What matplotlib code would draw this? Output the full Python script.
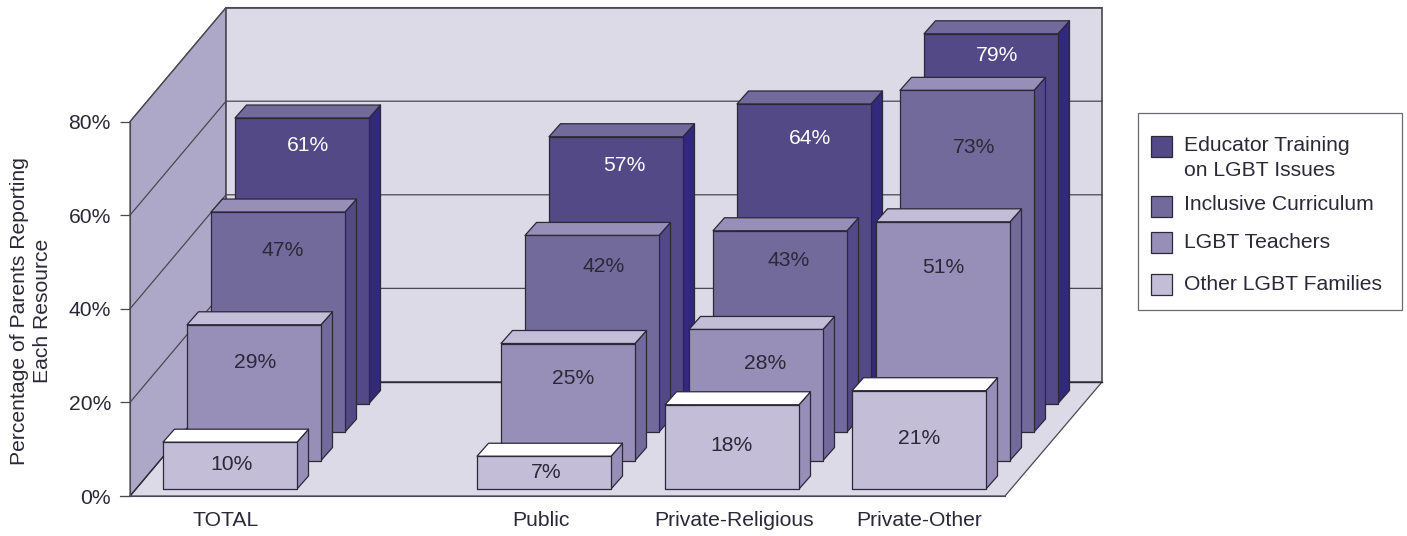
import matplotlib
matplotlib.use("Agg")
import matplotlib.pyplot as plt
from matplotlib.patches import Polygon, Rectangle

plt.rcParams['font.family'] = ['Liberation Sans', 'DejaVu Sans']

# ---- data ----
categories = ["TOTAL", "Public", "Private-Religious", "Private-Other"]
series_names = ["Other LGBT Families", "LGBT Teachers", "Inclusive Curriculum", "Educator Training\non LGBT Issues"]
other_families = [10, 7, 18, 21]
lgbt_teachers = [29, 25, 28, 51]
inclusive_curriculum = [47, 42, 43, 73]
educator_training = [61, 57, 64, 79]
y_ticks = [0, 20, 40, 60, 80]

# ---- layout (pixels of the 1407x536 canvas on x, percent on y) ----
W, H = 1407, 536
PX_PER_PCT = 4.68
Y0 = 496
FS = 15.2
cat_x = [163, 477, 665, 852]          # left edge of the front bar of each group
cat_tick_x = [226, 541, 734, 919]
bar_w = 134
row_dx, row_dy = 24, 28.5 / PX_PER_PCT   # shift between rows of depth
row0_dy = 7 / PX_PER_PCT                 # front row above the plot's front edge
depth_dx, depth_dy = 11.5, 13 / PX_PER_PCT  # depth of one bar
wall_dx, wall_dy = 96, 114 / PX_PER_PCT
floor_w = 875
wall_top = 80

C_EDGE = "#2b2838"
C_WALL = "#dcdae6"
C_SIDE = "#aea8c8"
C_LINE = "#4a4850"
front = ["#c3bdd7", "#978fb8", "#736a9c", "#534987"]
side = ["#978fb8", "#736a9c", "#534987", "#33297a"]
top = ["#ffffff", "#c3bdd7", "#978fb8", "#736a9c"]
label_colors = ["#2b2838", "#2b2838", "#2b2838", "#ffffff"]

# label offsets from front-face centre (px right, px below the top of the face)
label_dx = [[2, 2, 0, 0], [1, 5, 9, 0], [5, 12, 9, 7], [6, 8, 6, 6]]
label_dy = [[22, 16, 41, 48], [38, 35, 34, 46], [38, 31, 30, 57], [27, 29, 35, 22]]

rows = [other_families, lgbt_teachers, inclusive_curriculum, educator_training]

fig = plt.figure(figsize=(W / 100, H / 100), dpi=100)
ax = fig.add_axes([0, 0, 1, 1])
ax.set_xlim(0, W)
ax.set_ylim(-(H - Y0) / PX_PER_PCT, Y0 / PX_PER_PCT)
ax.patch.set_alpha(0)

x0 = 130
# walls and floor
ax.add_patch(Polygon([(x0, 0), (x0 + wall_dx, wall_dy), (x0 + wall_dx + floor_w + 1, wall_dy), (x0 + floor_w, 0)],
                     fc=C_WALL, ec=C_LINE, lw=0.9, zorder=1))
ax.add_patch(Polygon([(x0, 0), (x0 + wall_dx, wall_dy), (x0 + wall_dx, wall_dy + wall_top), (x0, wall_top)],
                     fc=C_SIDE, ec=C_LINE, lw=0.9, zorder=1))
ax.add_patch(Rectangle((x0 + wall_dx, wall_dy), floor_w + 1, wall_top,
                       fc=C_WALL, ec=C_LINE, lw=1.2, zorder=1))
for t in y_ticks[1:-1] + [wall_top]:
    ax.plot([x0, x0 + wall_dx, x0 + wall_dx + floor_w + 1], [t, t + wall_dy, t + wall_dy],
            color=C_LINE, lw=0.9, zorder=2)
ax.plot([x0, x0 + wall_dx], [0, wall_dy], color=C_EDGE, lw=0.9, zorder=2)
ax.plot([x0 + wall_dx, x0 + wall_dx + floor_w + 1], [wall_dy, wall_dy], color=C_EDGE, lw=1.0, zorder=2)

# bars: back row first
z = 3
for r in range(3, -1, -1):
    for c, v in enumerate(rows[r]):
        x = cat_x[c] + r * row_dx
        yb = row0_dy + r * row_dy
        yt = yb + v
        ek = dict(ec=C_EDGE, lw=0.9, joinstyle="round", zorder=z)
        ax.add_patch(Polygon([(x + bar_w, yb), (x + bar_w + depth_dx, yb + depth_dy),
                              (x + bar_w + depth_dx, yt + depth_dy), (x + bar_w, yt)], fc=side[r], **ek))
        ax.add_patch(Polygon([(x, yt), (x + depth_dx, yt + depth_dy),
                              (x + bar_w + depth_dx, yt + depth_dy), (x + bar_w, yt)], fc=top[r], **ek))
        ax.add_patch(Rectangle((x, yb), bar_w, v, fc=front[r], **ek))
        ax.text(x + bar_w / 2 + label_dx[r][c], yt - label_dy[r][c] / PX_PER_PCT, f"{v}%",
                ha="center", va="center", fontsize=FS, color=label_colors[r], zorder=z + 0.5)
    z += 1

# axes
for s in ("top", "right"):
    ax.spines[s].set_visible(False)
ax.spines["left"].set_position(("data", x0))
ax.spines["left"].set_bounds(0, 80)
ax.spines["left"].set_color(C_LINE)
ax.spines["bottom"].set_position(("data", 0))
ax.spines["bottom"].set_bounds(120, x0 + floor_w)
ax.spines["bottom"].set_color(C_LINE)
ax.spines["left"].set_zorder(2)
ax.set_yticks(y_ticks)
ax.set_yticklabels([f"{t}%" for t in y_ticks])
ax.tick_params(axis="y", length=7.2, width=0.9, color=C_LINE, labelsize=FS, labelcolor=C_EDGE, pad=6.5)
ax.set_xticks(cat_tick_x)
ax.set_xticklabels(categories)
ax.tick_params(axis="x", length=0, labelsize=FS, labelcolor=C_EDGE, pad=10.5)

ax.text(19.5, 39.6, "Percentage of Parents Reporting", rotation=90, ha="center", va="center",
        fontsize=FS, color=C_EDGE)
ax.text(43, 39.6, "Each Resource", rotation=90, ha="center", va="center", fontsize=FS, color=C_EDGE)


# legend
def py(p):
    return (Y0 - p) / PX_PER_PCT


ax.add_patch(Rectangle((1138, py(310)), 264, (310 - 113) / PX_PER_PCT, fc="white", ec="#6a6870", lw=0.9,
                       clip_on=False, zorder=10))
sw_top = [274, 232, 196, 136]
txt_y = [284, 243, 205, 158]
for i, name in enumerate(series_names):
    ax.add_patch(Rectangle((1151, py(sw_top[i] + 21)), 21, 21 / PX_PER_PCT, fc=front[i], ec=C_EDGE, lw=0.9, zorder=11))
    ax.text(1184, py(txt_y[i]), name, ha="left", va="center", fontsize=FS, color=C_EDGE,
            linespacing=1.36, zorder=11)

fig.savefig("out.png", dpi=100)
